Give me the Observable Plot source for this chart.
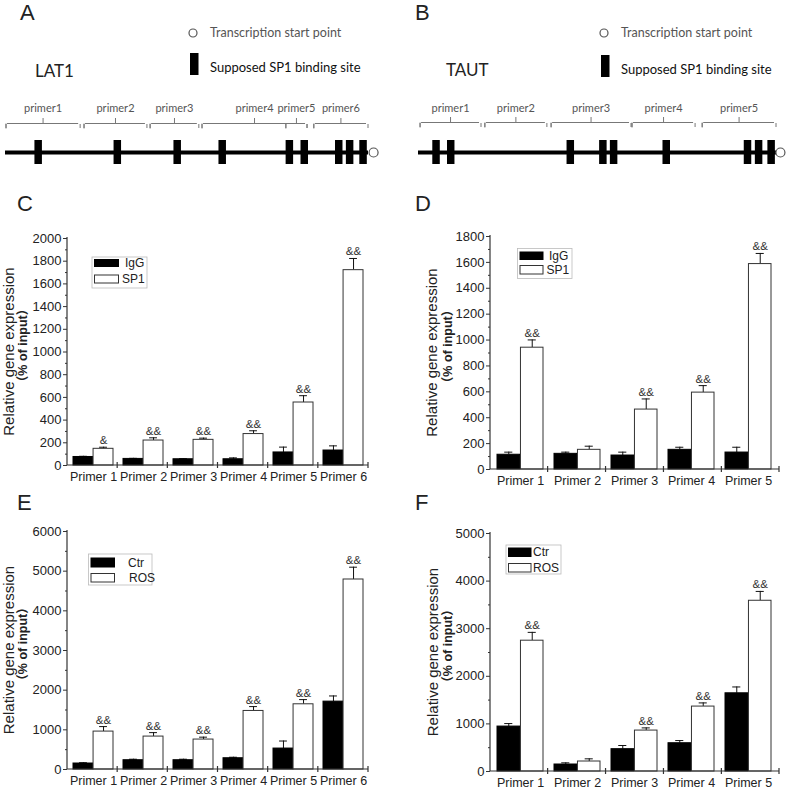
<!DOCTYPE html>
<html><head><meta charset="utf-8">
<script src="https://cdn.jsdelivr.net/npm/d3@7"></script>
<script src="https://cdn.jsdelivr.net/npm/@observablehq/plot@0.6"></script>
<style>
body{margin:0;background:#fff;}
#root{position:relative;width:787px;height:790px;overflow:hidden;background:#fff;}
.panel{position:absolute;}
.panel svg{display:block;}
</style></head><body><div id="root"></div>
<script>
// ---------- Panel A / B : promoter diagrams ----------
const lat1Primers = ["primer1", "primer2", "primer3", "primer4", "primer5", "primer6"];
const lat1PrimerStart = [0, 21.5, 39.7, 54.0, 77.1, 84.8];
const lat1PrimerEnd = [20.7, 39.1, 53.4, 83.2, 83.2, 100];
const lat1Sites = [9.0, 30.8, 47.3, 59.7, 78.2, 82.3, 91.8, 94.8, 98.5];
const lat1Tss = 101.4;

const tautPrimers = ["primer1", "primer2", "primer3", "primer4", "primer5"];
const tautPrimerStart = [0.3, 18.4, 36.9, 59.5, 79.1];
const tautPrimerEnd = [17.6, 36.0, 59.5, 77.4, 100];
const tautSites = [4.9, 9.0, 42.4, 51.5, 54.5, 69.2, 91.9, 95.0, 98.5];
const tautTss = 101.1;

// ---------- Panel C: LAT1 ChIP (IgG vs SP1) ----------
const primers6 = ["Primer 1", "Primer 2", "Primer 3", "Primer 4", "Primer 5", "Primer 6"];
const primers5 = ["Primer 1", "Primer 2", "Primer 3", "Primer 4", "Primer 5"];

const cIgG = [75, 58, 55, 55, 115, 132];
const cIgGErr = [6, 5, 5, 12, 47, 41];
const cSP1 = [147, 220, 226, 277, 555, 1721];
const cSP1Err = [14, 24, 15, 29, 60, 103];
const cSig = ["&", "&&", "&&", "&&", "&&", "&&"];
const cTicks = [0, 200, 400, 600, 800, 1000, 1200, 1400, 1600, 1800, 2000];

// ---------- Panel D: TAUT ChIP (IgG vs SP1) ----------
const dIgG = [114, 121, 108, 152, 131];
const dIgGErr = [20, 13, 26, 20, 41];
const dSP1 = [941, 152, 463, 594, 1587];
const dSP1Err = [60, 28, 82, 54, 82];
const dSig = ["&&", "", "&&", "&&", "&&"];
const dTicks = [0, 200, 400, 600, 800, 1000, 1200, 1400, 1600, 1800];

// ---------- Panel E: LAT1 (Ctr vs ROS) ----------
const eCtr = [151, 234, 234, 284, 528, 1711];
const eCtrErr = [20, 25, 25, 25, 190, 143];
const eROS = [956, 830, 755, 1476, 1644, 4790];
const eROSErr = [126, 100, 60, 110, 118, 310];
const eSig = ["&&", "&&", "&&", "&&", "&&", "&&"];
const eTicks = [0, 1000, 2000, 3000, 4000, 5000, 6000];

// ---------- Panel F: TAUT (Ctr vs ROS) ----------
const fCtr = [944, 147, 469, 594, 1643];
const fCtrErr = [63, 35, 77, 56, 133];
const fROS = [2748, 210, 860, 1364, 3587];
const fROSErr = [175, 56, 56, 77, 196];
const fSig = ["&&", "", "&&", "&&", "&&"];
const fTicks = [0, 1000, 2000, 3000, 4000, 5000];

const FONT = "'Liberation Sans', Arial, Helvetica, sans-serif";
const DFONT = "Lato, 'Open Sans', sans-serif";
const root = document.getElementById("root");

function place(svg, left, top) {
  const div = document.createElement("div");
  div.className = "panel";
  div.style.left = left + "px";
  div.style.top = top + "px";
  div.appendChild(svg);
  root.appendChild(div);
}

function txt(s, x, y, text, family, size, fill) {
  return s.append("text").attr("x", x).attr("y", y).text(text)
    .attr("text-anchor", "start").attr("font-family", family)
    .attr("font-size", size).attr("fill", fill);
}

function letter(s, text, x, y) {
  txt(s, x, y, text, FONT, 22, "#222");
}

function genePanel(o) {
  const LINE_Y = 152, SITE_T = 140, SITE_B = 164, BR_Y = o.brY, LAB_Y = 108;
  const br = o.names.map((name, i) => ({name, start: o.start[i], end: o.end[i], mid: (o.start[i] + o.end[i]) / 2}));
  const svg = Plot.plot({
    width: o.width, height: 175, margin: 0,
    style: {fontFamily: DFONT, background: "transparent", overflow: "visible"},
    x: {domain: [0, 100], range: o.xRange, axis: null},
    y: {type: "identity", axis: null},
    marks: [
      Plot.ruleY([LINE_Y], {x1: 0, x2: 100, stroke: "#000", strokeWidth: 4}),
      Plot.ruleX(o.sites, {y1: SITE_T, y2: SITE_B, stroke: "#000", strokeWidth: 7.5}),
      Plot.dot([o.tss], {x: d => d, y: LINE_Y, r: 4.5, fill: "#fff", stroke: "#555", strokeWidth: 1.2}),
      Plot.ruleY(br, {x1: "start", x2: "end", y: BR_Y, stroke: "#777", strokeWidth: 1, insetLeft: 2, insetRight: 2}),
      Plot.link(br, {x1: "start", x2: "start", y1: BR_Y + 5, y2: BR_Y, dx: 0.5, curve: "bump-y", stroke: "#777"}),
      Plot.ruleX(br, {x: "start", y1: BR_Y + 1, y2: BR_Y + 5, stroke: "#777", dx: 0.5}),
      Plot.ruleX(br, {x: "end", y1: BR_Y + 1, y2: BR_Y + 5, stroke: "#777", dx: -0.5}),
      Plot.ruleX(br, {x: "mid", y1: BR_Y - 5, y2: BR_Y, stroke: "#777"}),
      Plot.text(br, {x: "mid", y: LAB_Y, text: "name", fill: "#555", fontSize: 11, fontFamily: DFONT})
    ]
  });
  const s = d3.select(svg);
  letter(s, o.letter, o.letterX, 20);
  txt(s, o.geneX, o.geneY, o.gene, DFONT, 17, "#222");
  s.append("circle").attr("cx", o.legX - 17).attr("cy", 33).attr("r", 4)
    .attr("fill", "#fff").attr("stroke", "#555").attr("stroke-width", 1.2);
  txt(s, o.legX, 37, "Transcription start point", DFONT, 12.5, "#555");
  s.append("rect").attr("x", o.legX - 20).attr("y", o.rectY).attr("width", 8.5).attr("height", 22).attr("fill", "#000");
  txt(s, o.legX, o.suppY, "Supposed SP1 binding site", DFONT, 13, "#111");
  return svg;
}

function barPanel(o) {
  const [mt, mr, mb, ml] = o.margin;
  const n = o.primers.length;
  const innerW = o.width - ml - mr;
  const step = innerW / (n - o.pi + 2 * o.po);
  const bw = step * (1 - o.pi);
  const half = bw / 2;
  const capIn = (half - o.cap) / 2;
  const rowsA = o.primers.map((p, i) => ({primer: p, v: o.a[i], e: o.aErr[i]}));
  const rowsB = o.primers.map((p, i) => ({primer: p, v: o.b[i], e: o.bErr[i], sig: o.sig[i]}));
  const minor = o.yTicks.slice(1).map((t, i) => (t + o.yTicks[i]) / 2);
  const svg = Plot.plot({
    width: o.width, height: o.height,
    marginTop: mt, marginRight: mr, marginBottom: mb, marginLeft: ml,
    style: {fontFamily: FONT, fontSize: "12px", color: "#222", background: "transparent", overflow: "visible"},
    x: {domain: o.primers, paddingInner: o.pi, paddingOuter: o.po, label: null},
    y: {domain: [0, o.yMax], label: null},
    marks: [
      Plot.axisY({ticks: o.yTicks, tickSize: 4, tickPadding: 2, fontSize: 13, label: null, stroke: "#333", tickFormat: d3.format("d")}),
      Plot.axisY({ticks: minor, tickSize: 2, tickFormat: () => "", label: null, stroke: "#333"}),
      Plot.axisX({tickSize: 0, tickPadding: 7, fontSize: 12.5, label: null}),
      Plot.ruleX(rowsA, {x: "primer", y1: "v", y2: d => d.v + d.e, dx: -half / 2, stroke: "#111"}),
      Plot.tickY(rowsA, {x: "primer", y: d => d.v + d.e, insetLeft: capIn, insetRight: half + capIn, stroke: "#111"}),
      Plot.ruleX(rowsB, {x: "primer", y1: "v", y2: d => d.v + d.e, dx: half / 2, stroke: "#111"}),
      Plot.tickY(rowsB, {x: "primer", y: d => d.v + d.e, insetLeft: half + capIn, insetRight: capIn, stroke: "#111"}),
      Plot.barY(rowsA, {x: "primer", y: "v", insetRight: half, fill: "#000", stroke: "#000", strokeWidth: 1}),
      Plot.barY(rowsB, {x: "primer", y: "v", insetLeft: half, fill: "#fff", stroke: "#333", strokeWidth: 1}),
      Plot.text(rowsB, {x: "primer", y: d => d.v + d.e, text: "sig", dx: half / 2, dy: -3, lineAnchor: "bottom", fontSize: 11.5, fill: "#333"})
    ]
  });
  const s = d3.select(svg);
  const x0 = ml, x1 = o.width - mr, y0 = o.height - mb;
  const g = s.append("g").attr("stroke", "#333").attr("stroke-width", 1.2);
  g.append("line").attr("x1", x0).attr("x2", x0).attr("y1", mt - 1).attr("y2", y0);
  g.append("line").attr("x1", x0).attr("x2", x1).attr("y1", y0).attr("y2", y0);
  const start0 = ml + step * o.po;
  for (let i = 0; i < n; i++) {
    const bx = i < n - 1 ? start0 + (i + 1) * step - step * o.pi / 2 : x1;
    g.append("line").attr("x1", bx).attr("x2", bx).attr("y1", y0 - 3).attr("y2", y0 + 3);
  }
  // y title (two lines)
  const cy = (mt + y0) / 2;
  s.append("text").attr("transform", `translate(${o.titleX[0]},${cy}) rotate(-90)`)
    .attr("text-anchor", "middle").attr("dominant-baseline", "central")
    .attr("font-family", FONT).attr("font-size", 15).attr("fill", "#222")
    .text("Relative gene expression");
  s.append("text").attr("transform", `translate(${o.titleX[1]},${cy - 6}) rotate(-90)`)
    .attr("text-anchor", "middle").attr("dominant-baseline", "central")
    .attr("font-family", FONT + ", 'Noto Sans CJK SC'").attr("font-size", 12.5).attr("font-weight", "bold").attr("fill", "#222")
    .text("（% of input）");
  // legend
  const L = o.legend;
  s.append("rect").attr("x", L.fx).attr("y", L.fy).attr("width", L.fw).attr("height", L.fh)
    .attr("fill", "#fff").attr("stroke", "#bbb").attr("stroke-width", 0.8);
  s.append("rect").attr("x", L.sx).attr("y", L.y1).attr("width", L.sw).attr("height", L.h1).attr("fill", "#000");
  s.append("rect").attr("x", L.sx + 0.5).attr("y", L.y2).attr("width", L.sw - 1).attr("height", L.h2)
    .attr("fill", "#fff").attr("stroke", "#333").attr("stroke-width", 1);
  txt(s, L.tx1, L.y1 + L.h1 / 2, o.names[0], FONT, 12, "#222").attr("dominant-baseline", "central");
  txt(s, L.tx2, L.y2 + L.h2 / 2, o.names[1], FONT, 12, "#222").attr("dominant-baseline", "central");
  letter(s, o.letter, o.letterX, o.letterY);
  return svg;
}

// A
place(genePanel({
  width: 393, xRange: [5, 368], names: lat1Primers, start: lat1PrimerStart, end: lat1PrimerEnd,
  sites: lat1Sites, tss: lat1Tss, brY: 123, letter: "A", letterX: 20, gene: "LAT1", geneX: 35, geneY: 77,
  legX: 210, rectY: 53, suppY: 72
}), 0, 0);
// B
place(genePanel({
  width: 394, xRange: [25, 383], names: tautPrimers, start: tautPrimerStart, end: tautPrimerEnd,
  sites: tautSites, tss: tautTss, brY: 122, letter: "B", letterX: 22, gene: "TAUT", geneX: 53, geneY: 76,
  legX: 228, rectY: 55, suppY: 74
}), 393, 0);

// C
place(barPanel({
  width: 393, height: 300, margin: [48, 25, 25, 67], primers: primers6, pi: 0.2, po: 0.1, cap: 8,
  a: cIgG, aErr: cIgGErr, b: cSP1, bErr: cSP1Err, sig: cSig, yMax: 2000, yTicks: cTicks,
  names: ["IgG", "SP1"], titleX: [8.5, 23],
  legend: {fx: 92, fy: 67, fw: 55, fh: 31, sx: 94, sw: 25, y1: 69, h1: 8, y2: 85, h2: 8, tx1: 125, tx2: 122},
  letter: "C", letterX: 17, letterY: 21
}), 0, 190);

// D
place(barPanel({
  width: 394, height: 300, margin: [46, 8, 21, 97], primers: primers5, pi: 0.19, po: 0.09, cap: 9,
  a: dIgG, aErr: dIgGErr, b: dSP1, bErr: dSP1Err, sig: dSig, yMax: 1800, yTicks: dTicks,
  names: ["IgG", "SP1"], titleX: [38.5, 54.5],
  legend: {fx: 124.5, fy: 58.5, fw: 54.5, fh: 30, sx: 126.5, sw: 24, y1: 61.5, h1: 8.5, y2: 75.5, h2: 8.5, tx1: 156, tx2: 153.5},
  letter: "D", letterX: 22, letterY: 21
}), 393, 190);

// E
place(barPanel({
  width: 393, height: 300, margin: [41, 25, 21, 67], primers: primers6, pi: 0.2, po: 0.1, cap: 8,
  a: eCtr, aErr: eCtrErr, b: eROS, bErr: eROSErr, sig: eSig, yMax: 6000, yTicks: eTicks,
  names: ["Ctr", "ROS"], titleX: [8.5, 23],
  legend: {fx: 88.5, fy: 64, fw: 63.5, fh: 31, sx: 90.5, sw: 24.5, y1: 67.5, h1: 10, y2: 83.5, h2: 8.5, tx1: 128, tx2: 129},
  letter: "E", letterX: 17, letterY: 20
}), 0, 490);

// F
place(barPanel({
  width: 394, height: 300, margin: [43, 8, 19, 97], primers: primers5, pi: 0.19, po: 0.09, cap: 9,
  a: fCtr, aErr: fCtrErr, b: fROS, bErr: fROSErr, sig: fSig, yMax: 5000, yTicks: fTicks,
  names: ["Ctr", "ROS"], titleX: [39, 55],
  legend: {fx: 113, fy: 55, fw: 55, fh: 29, sx: 115, sw: 23.5, y1: 57.5, h1: 9.5, y2: 73.5, h2: 8.5, tx1: 140, tx2: 140},
  letter: "F", letterX: 22, letterY: 20
}), 393, 490);
</script>
</body></html>
